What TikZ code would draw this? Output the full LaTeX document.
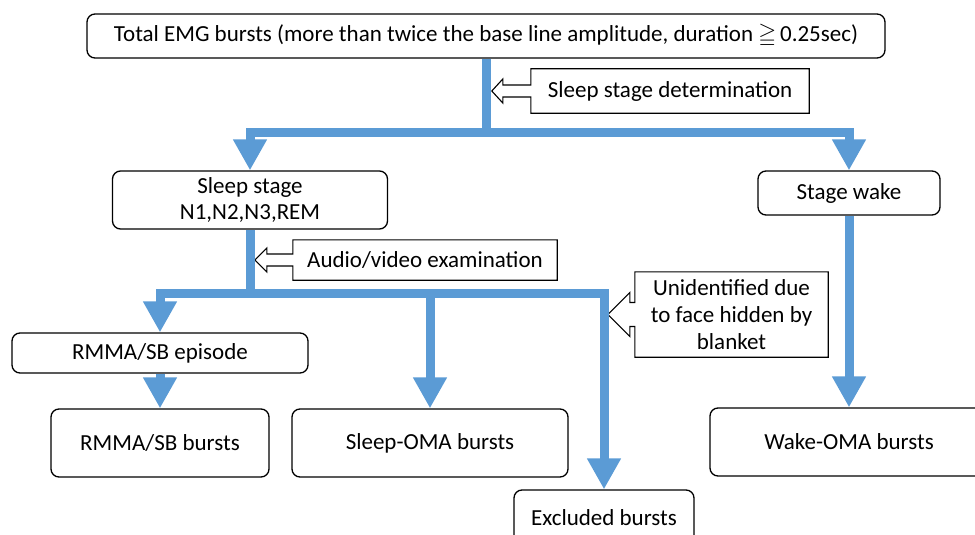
\documentclass[tikz,border=0pt]{standalone}
\usepackage{amssymb}
\usepackage{fontspec}
\setmainfont{Carlito}
\usetikzlibrary{arrows.meta,calc}
\definecolor{flowblue}{RGB}{91,155,213}
% #1 node, #2 shaft length, #3 head length, #4 shaft half height, #5 head half height
\newcommand\calloutarrow[5]{%
  \draw[callout] (#1.north west) -- (#1.north east) -- (#1.south east) -- (#1.south west)
    -- ($(#1.west)+(0,#4)$) -- ($(#1.west)+(-#2,#4)$) -- ($(#1.west)+(-#2,#5)$)
    -- ($(#1.west)+(-#2-#3,0)$) -- ($(#1.west)+(-#2,-#5)$) -- ($(#1.west)+(-#2,-#4)$)
    -- ($(#1.west)+(0,-#4)$) -- cycle;}
\begin{document}
\begin{tikzpicture}[x=1pt,y=-1pt,
  font=\fontsize{23}{26}\selectfont,
  box/.style={draw, line width=1.3pt, rounded corners=8pt, align=center, inner sep=0pt},
  ctext/.style={align=center, inner sep=0pt},
  callout/.style={draw, line width=1.1pt, line join=miter},
  flow/.style={draw=flowblue, line width=9pt, line join=miter},
  tip/.style={-{Triangle[width=32pt,length=31pt]}}]
\useasboundingbox (0,0) rectangle (975,535);
\clip (0,0) rectangle (975,535);

% boxes
\node[box, minimum width=798pt, minimum height=44pt] (top) at (486,36)
  {Total EMG bursts (more than twice the base line amplitude, duration $\geqq$\,0.25sec)};
\node[box, minimum width=275pt, minimum height=58pt] (sleep) at (250,200)
  {Sleep stage\\N1,N2,N3,REM};
\node[box, minimum width=182pt, minimum height=44pt] (wake) at (849,193) {Stage wake};
\node[box, minimum width=296pt, minimum height=40pt] (episode) at (160,353) {RMMA/SB episode};
\node[box, minimum width=218pt, minimum height=68pt] (bursts) at (160,443) {RMMA/SB bursts};
\node[box, minimum width=276pt, minimum height=68pt] (soma) at (430,443) {Sleep-OMA bursts};
\node[box, minimum width=180pt, minimum height=56pt] (excl) at (604,518) {Excluded bursts};
\node[box, minimum width=278pt, minimum height=68pt] (wakeoma) at (849,442) {Wake-OMA bursts};

% callouts
\node[ctext, minimum width=278pt, minimum height=44pt] (c1) at (670,91) {Sleep stage determination};
\node[ctext, minimum width=264pt, minimum height=40pt] (c2) at (425,260) {Audio/video examination};
\node[ctext, minimum width=193pt, minimum height=85pt, font=\fontsize{23}{27}\selectfont] (c3) at (731.5,314.5)
  {Unidentified due\\to face hidden by\\blanket};
\calloutarrow{c1}{28}{11}{6}{12}
\calloutarrow{c2}{26}{12}{6}{12}
\calloutarrow{c3}{5}{22}{12}{22}

% connectors
\coordinate (j1) at (486,132);
\coordinate (j2) at (250,293);
\coordinate (j3) at (430,293);
\draw[flow] (top.south) -- (j1);
\draw[flow,tip] (j1) -| (sleep.north);
\draw[flow,tip] (j1) -| (wake.north);
\draw[flow] (sleep.south) -- (j2);
\draw[flow,tip] (j2) -| (episode.north);
\draw[flow,tip] (j2) -| (excl.north);
\draw[flow,tip] (j3) -- (soma.north);
\draw[flow,tip] (episode.south) -- (bursts.north);
\draw[flow,tip] (wake.south) -- (wakeoma.north);
\end{tikzpicture}
\end{document}
